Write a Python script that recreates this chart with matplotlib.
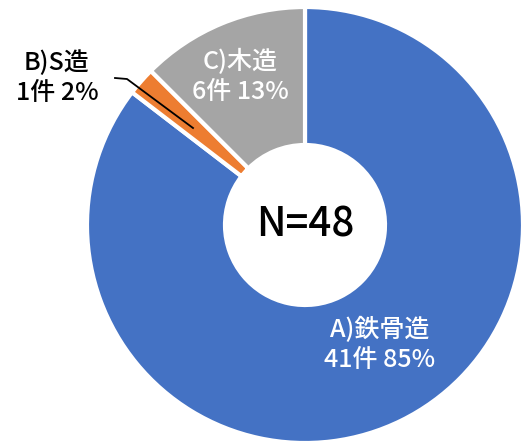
import matplotlib
matplotlib.use("Agg")
import matplotlib.pyplot as plt

plt.rcParams['font.family'] = ['Noto Sans CJK JP', 'DejaVu Sans']

categories = ["A)鉄骨造", "B)S造", "C)木造"]
counts = [41, 1, 6]
percents = ["85%", "2%", "13%"]
colors = ["#4472C4", "#ED7D31", "#A5A5A5"]
total_label = "N=48"

W, H = 532, 446
fig = plt.figure(figsize=(W / 100, H / 100), dpi=100)
ax = fig.add_axes([0, 0, 1, 1])

cx, cy = 305, H - 225
R = 218
hole = 80

ax.pie(counts, colors=colors, startangle=90, counterclock=False,
       center=(cx, cy), radius=R,
       wedgeprops=dict(width=R - hole, edgecolor="white", linewidth=3))
ax.set_xlim(0, W)
ax.set_ylim(0, H)
ax.set_aspect("equal")
ax.axis("off")

fs = 18
def lab(i):
    return f"{categories[i]}\n{counts[i]}件 {percents[i]}"

ax.text(380, H - 345, lab(0), ha="center", va="center", color="white",
        fontsize=fs, linespacing=1.15, fontweight="medium")
ax.text(240, H - 77, lab(2), ha="center", va="center", color="white",
        fontsize=fs, linespacing=1.15, fontweight="medium")
ax.text(57, H - 78, lab(1), ha="center", va="center", color="black",
        fontsize=fs, linespacing=1.15, fontweight="medium")
ax.plot([115, 127, 193], [H - 78, H - 79, H - 128], color="black", lw=1.3)

ax.text(cx, cy, total_label, ha="center", va="center", color="black",
        fontsize=29, fontweight="medium")

fig.savefig("out.png", dpi=100)
